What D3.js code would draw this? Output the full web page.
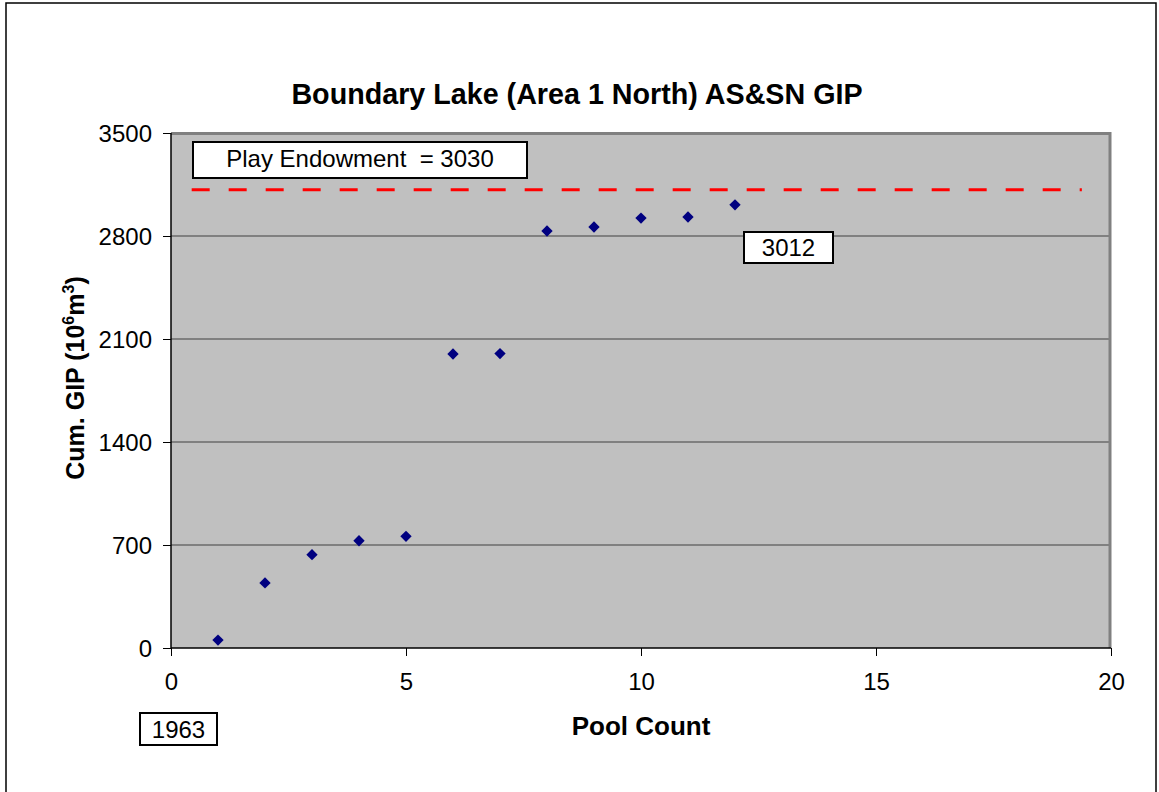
<html>
<head>
<script src="https://d3js.org/d3.v7.min.js"></script>
<style>
  * { margin: 0; padding: 0; }
  body { background: #fff; font-family: Arial, 'Liberation Sans', sans-serif; }
  .tick text { font-size: 24px; fill: #000; }
  .tick line { stroke: #000; }
  .domain { display: none; }
</style>
</head>
<body>
<div id="chart"></div>
<script>
// data
const poolCount = [1, 2, 3, 4, 5, 6, 7, 8, 9, 10, 11, 12];
const cumGIP = [54, 442, 634, 729, 759, 1998, 2001, 2834, 2861, 2922, 2929, 3012];
const xTicks = [0, 5, 10, 15, 20];
const yTicks = [0, 700, 1400, 2100, 2800, 3500];
const endowmentLine = 3115;      // where the dashed line sits on the axis
const endowmentSpan = [0.44, 19.38];
const endowmentLabel = 'Play Endowment  = 3030';
const lastLabel = '3012';
const yearLabel = '1963';

var width = 1159, height = 792;
var margin = {left: 171, right: 48, top: 133, bottom: 144};
var pw = width - margin.left - margin.right;
var ph = height - margin.top - margin.bottom;

var svg = d3.select('#chart').append('svg')
  .attr('width', width).attr('height', height);

// outer frame
svg.append('rect')
  .attr('x', 6).attr('y', 3).attr('width', 1150).attr('height', 800)
  .attr('fill', '#fff').attr('stroke', '#000').attr('stroke-width', 1.5);

var x = d3.scaleLinear().domain([0, 20]).range([0, pw]);
var y = d3.scaleLinear().domain([0, 3500]).range([ph, 0]);

var g = svg.append('g').attr('transform', 'translate(' + margin.left + ',' + margin.top + ')');

// plot background
g.append('rect').attr('width', pw).attr('height', ph).attr('fill', '#c0c0c0');

// grid
g.selectAll('.grid').data(yTicks.slice(1, -1)).enter().append('line')
  .attr('class', 'grid')
  .attr('x1', 0).attr('x2', pw)
  .attr('y1', function (d) { return y(d); })
  .attr('y2', function (d) { return y(d); })
  .attr('stroke', '#404040').attr('stroke-width', 1.2);

// top / right border
g.append('path')
  .attr('d', 'M0,0.5H' + (pw - 1) + 'V' + ph)
  .attr('fill', 'none').attr('stroke', '#808080').attr('stroke-width', 3);

// axes
g.append('g')
  .attr('transform', 'translate(0,' + ph + ')')
  .call(d3.axisBottom(x).tickValues(xTicks).tickSize(8).tickPadding(17));
g.append('g')
  .call(d3.axisLeft(y).tickValues(yTicks).tickFormat(d3.format('d')).tickSize(8).tickPadding(11))
  .selectAll('text').attr('dy', '0.35em');

g.append('line').attr('x1', 0).attr('x2', pw).attr('y1', ph).attr('y2', ph)
  .attr('stroke', '#000').attr('stroke-width', 1.5);
g.append('line').attr('x1', 0).attr('x2', 0).attr('y1', 0).attr('y2', ph)
  .attr('stroke', '#000').attr('stroke-width', 1.5);

// endowment dashed line
g.append('line')
  .attr('x1', x(endowmentSpan[0])).attr('x2', x(endowmentSpan[1]))
  .attr('y1', y(endowmentLine)).attr('y2', y(endowmentLine))
  .attr('stroke', '#ff0000').attr('stroke-width', 3)
  .attr('stroke-dasharray', '18,19');

// points
g.selectAll('.pt').data(poolCount).enter().append('path')
  .attr('class', 'pt')
  .attr('d', d3.symbol(d3.symbolSquare, 64))
  .attr('transform', function (d, i) {
    return 'translate(' + x(d) + ',' + y(cumGIP[i]) + ') rotate(45)';
  })
  .attr('fill', '#000080');

// text boxes
function box(x0, y0, w, h, txt, base) {
  svg.append('rect').attr('x', x0).attr('y', y0).attr('width', w).attr('height', h)
    .attr('fill', '#fff').attr('stroke', '#000').attr('stroke-width', 2);
  svg.append('text').attr('x', x0 + w / 2).attr('y', base)
    .attr('text-anchor', 'middle').attr('font-size', 24).style('white-space', 'pre')
    .text(txt);
}
box(193, 142, 334, 36, endowmentLabel, 167);
box(744, 232, 89, 31, lastLabel, 256);
box(140, 713, 77, 32, yearLabel, 738);

// titles
svg.append('text').attr('x', 577).attr('y', 104).attr('text-anchor', 'middle')
  .attr('font-size', 28.7).attr('font-weight', 'bold')
  .text('Boundary Lake (Area 1 North) AS&SN GIP');

svg.append('text').attr('x', 641).attr('y', 735).attr('text-anchor', 'middle')
  .attr('font-size', 26).attr('font-weight', 'bold')
  .text('Pool Count');

var yl = svg.append('text')
  .attr('transform', 'translate(84,378) rotate(-90)')
  .attr('text-anchor', 'middle').attr('font-size', 25).attr('font-weight', 'bold');
yl.append('tspan').text('Cum. GIP (10');
yl.append('tspan').attr('font-size', 16).attr('dy', -10).text('6');
yl.append('tspan').attr('dy', 10).text('m');
yl.append('tspan').attr('font-size', 16).attr('dy', -10).text('3');
yl.append('tspan').attr('dy', 10).text(')');
</script>
</body>
</html>
